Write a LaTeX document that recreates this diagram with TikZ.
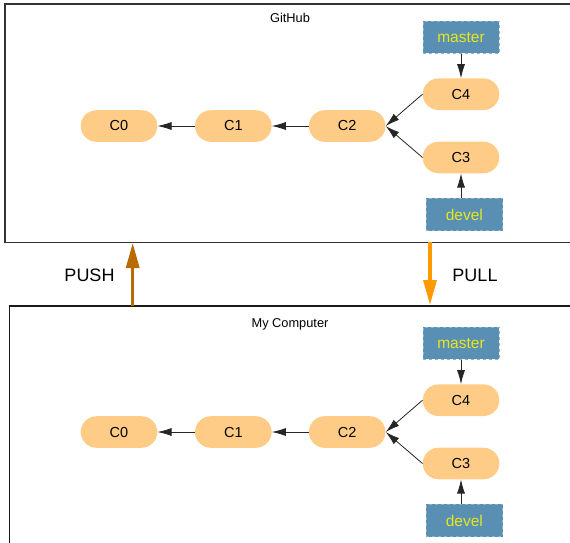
\documentclass[tikz,border=0pt]{standalone}
\usepackage{fontspec}
\setmainfont{Liberation Sans}
\usetikzlibrary{arrows.meta}
\definecolor{commitfill}{RGB}{255,204,136}
\definecolor{branchfill}{RGB}{90,143,180}
\definecolor{branchtext}{RGB}{230,230,30}
\definecolor{pushcol}{RGB}{185,106,0}
\definecolor{pullcol}{RGB}{255,153,0}
\tikzset{
  commit/.style={fill=commitfill, rectangle, rounded corners=15.8pt,
    minimum width=76.6pt, minimum height=31.6pt, font=\fontsize{14.5}{16}\selectfont},
  branch/.style={fill=branchfill, draw=branchfill!70!white, dashed, rectangle,
    minimum width=76.6pt, minimum height=32.3pt, text=branchtext,
    font=\fontsize{15.5}{17}\selectfont},
  edge/.style={draw, black!85, line width=0.8pt, -{Latex[length=14pt,width=8pt]}},
  sync/.style={draw, line width=3.2pt, -{Triangle[length=25pt,width=13pt]}}
}
\begin{document}
\begin{tikzpicture}[x=1pt,y=-1pt]
\clip (0,0) rectangle (570,542);
\newcommand\commits[1]{
\node[commit] (c0) at (119,126) {C0};
\node[commit] (c1) at (233.3,126) {C1};
\node[commit] (c2) at (347.2,126) {C2};
\node[commit] (c4) at (461,94.2) {C4};
\node[commit] (c3) at (461,157.5) {C3};
\node[branch] (master) at (461,37.2) {master};
\node[branch] (devel) at (464.3,214.5) {devel};
\path[edge] (c1) -- (c0);
\path[edge] (c2) -- (c1);
\path[edge] (c4.west) -- (c2.east);
\path[edge] (c3.west) -- (c2.east);
\path[edge] (master) -- (c4);
\path[edge] (devel.north -| c3.south) -- (c3.south);
\node[font=\fontsize{12.8}{14}\selectfont] (title) at (290,18) {#1};
}
\begin{scope}
\draw[black!80, line width=1.3pt] (5,4) rectangle (600,242.3);
\commits{GitHub}
\end{scope}
\begin{scope}[yshift=-306pt]
\draw[black!90, line width=1.3pt] (9.5,0) rectangle (600,600);
\commits{My Computer}
\end{scope}
% push / pull between the two repositories
\coordinate (pushfrom) at (132.7,306);
\coordinate (pushto) at (132.7,243);
\coordinate (pullfrom) at (430,242.3);
\coordinate (pullto) at (430,305);
\path[sync, pushcol] (pushfrom) -- (pushto);
\path[sync, pullcol] (pullfrom) -- (pullto);
\node[font=\fontsize{18}{20}\selectfont] (push) at (89.5,275) {PUSH};
\node[font=\fontsize{18}{20}\selectfont] (pull) at (475,275) {PULL};
\end{tikzpicture}
\end{document}
